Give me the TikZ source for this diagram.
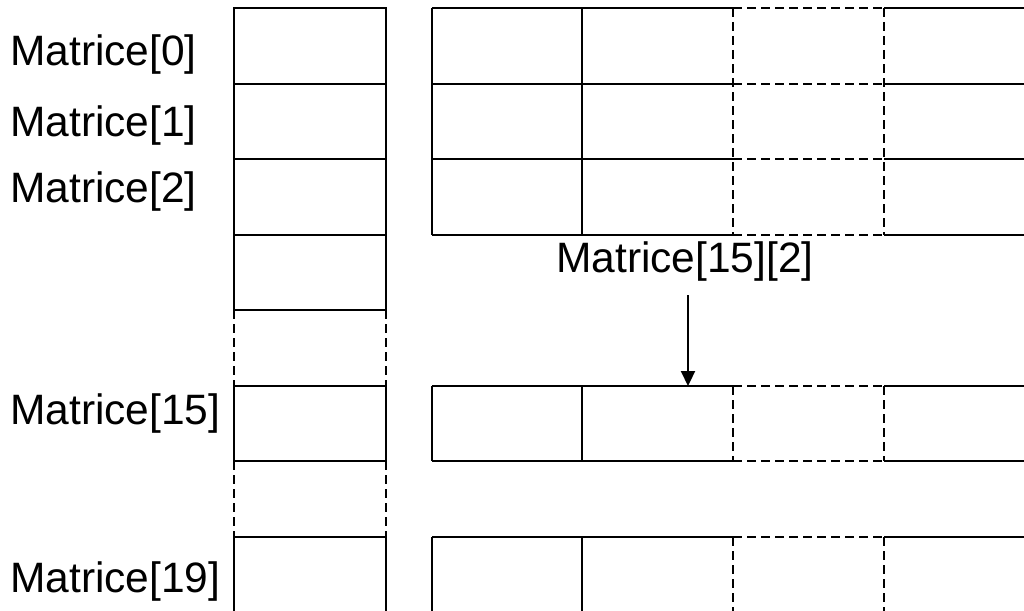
\documentclass[tikz,border=0pt]{standalone}
\usepackage{fontspec}
\setmainfont{Liberation Sans}
\usetikzlibrary{arrows.meta}
\begin{document}
\begin{tikzpicture}[x=1pt,y=-1pt,
  sline/.style={line width=2.2pt},
  dline/.style={line width=2.2pt, dash pattern=on 9pt off 5pt},
  lbl/.style={anchor=base west, inner sep=0pt, font=\fontsize{42.5}{42.5}\selectfont}]
\useasboundingbox (0,0) rectangle (1024,610);
\clip (0,0) rectangle (1024,610);
% ---- left column (array of pointers)
\draw[sline] (234,8) rectangle (386,310);
\foreach \y in {84,159,235} \draw[sline] (234,\y) -- (386,\y);
\draw[dline] (234,310) -- (234,386) (386,310) -- (386,386);
\draw[sline] (234,386) rectangle (386,461);
\draw[dline] (234,461) -- (234,537) (386,461) -- (386,537);
\draw[sline] (234,630) -- (234,537) -- (386,537) -- (386,630);
% ---- right rows
\foreach \ya/\yb in {8/235, 386/461, 537/630}{
  \foreach \y in {\ya,\yb} {
    \draw[sline] (432,\y) -- (733,\y);
    \draw[dline] (733,\y) -- (884,\y);
    \draw[sline] (884,\y) -- (1040,\y);
  }
  \draw[sline] (432,\ya) -- (432,\yb) (582,\ya) -- (582,\yb);
  \draw[dline] (733,\ya) -- (733,\yb) (884,\ya) -- (884,\yb);
}
\foreach \y in {84,159} {
  \draw[sline] (432,\y) -- (733,\y);
  \draw[dline] (733,\y) -- (884,\y);
  \draw[sline] (884,\y) -- (1040,\y);
}
% ---- labels
\node[lbl] (m0) at (10,65) {Matrice[0]};
\node[lbl] (m1) at (10,136) {Matrice[1]};
\node[lbl] (m2) at (10,202) {Matrice[2]};
\node[lbl] (m15) at (10,424) {Matrice[15]};
\node[lbl] (m19) at (10,592) {Matrice[19]};
\node[lbl] (ref) at (556,272) {Matrice[15][2]};
\coordinate (tgt) at (688,386);
\draw[sline, -{Triangle[length=15pt,width=14pt]}] ([yshift=-14pt]ref.south -| tgt) -- (tgt);
\end{tikzpicture}
\end{document}
